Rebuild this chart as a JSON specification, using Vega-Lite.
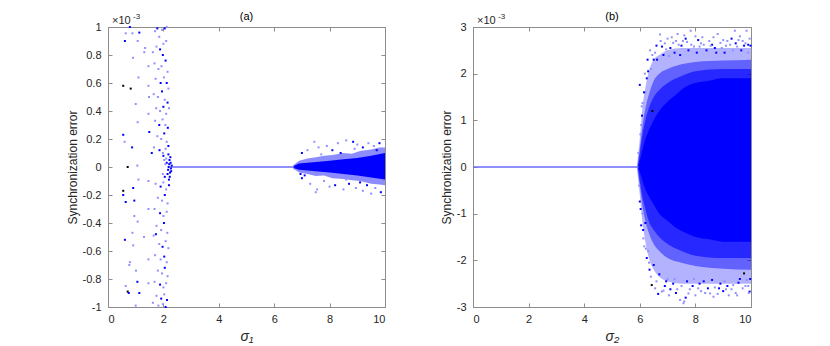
{
  "$schema": "https://vega.github.io/schema/vega-lite/v6.json",
  "padding": {"left": 65, "top": 10, "right": 5, "bottom": 5},
  "spacing": 53,
  "config": {
    "font": "Liberation Sans",
    "view": {"stroke": "#8c8c8c", "strokeWidth": 1},
    "axis": {
      "domainColor": "#8c8c8c", "tickColor": "#8c8c8c", "tickSize": -4,
      "labelFont": "Liberation Sans", "labelFontSize": 11, "labelColor": "#262626",
      "titleFont": "Liberation Sans", "titleFontSize": 12, "titleFontWeight": "normal", "titleColor": "#262626",
      "grid": false
    },
    "axisX": {"labelPadding": 10},
    "axisY": {"labelPadding": 11},
    "title": {"font": "Liberation Sans", "fontSize": 11, "fontWeight": "normal", "color": "#000000", "offset": -9}
  },
  "datasets": {
    "za": [{"s": 2.25, "e": 0}, {"s": 6.72, "e": 0}],
    "zb": [{"s": 0, "e": 0}, {"s": 5.95, "e": 0}],
    "aa": [
      {"k": "mid", "s": 6.68, "lo": -0.01, "hi": 0.01},
      {"k": "mid", "s": 6.9, "lo": -0.04, "hi": 0.045},
      {"k": "mid", "s": 7.2, "lo": -0.05, "hi": 0.06},
      {"k": "mid", "s": 7.5, "lo": -0.065, "hi": 0.07},
      {"k": "mid", "s": 7.8, "lo": -0.06, "hi": 0.08},
      {"k": "mid", "s": 8.1, "lo": -0.08, "hi": 0.085},
      {"k": "mid", "s": 8.5, "lo": -0.085, "hi": 0.1},
      {"k": "mid", "s": 8.8, "lo": -0.095, "hi": 0.095},
      {"k": "mid", "s": 9.1, "lo": -0.1, "hi": 0.115},
      {"k": "mid", "s": 9.5, "lo": -0.12, "hi": 0.125},
      {"k": "mid", "s": 9.8, "lo": -0.125, "hi": 0.14},
      {"k": "mid", "s": 10, "lo": -0.13, "hi": 0.14},
      {"k": "core", "s": 6.7, "lo": -0.008, "hi": 0.008},
      {"k": "core", "s": 6.9, "lo": -0.02, "hi": 0.025},
      {"k": "core", "s": 7.5, "lo": -0.03, "hi": 0.035},
      {"k": "core", "s": 8.0, "lo": -0.04, "hi": 0.045},
      {"k": "core", "s": 8.5, "lo": -0.05, "hi": 0.055},
      {"k": "core", "s": 9.0, "lo": -0.06, "hi": 0.065},
      {"k": "core", "s": 9.5, "lo": -0.075, "hi": 0.08},
      {"k": "core", "s": 10, "lo": -0.09, "hi": 0.1}
    ],
    "ab": [
      {"k": "outer", "s": 5.9, "lo": -0.05, "hi": 0.05},
      {"k": "outer", "s": 6.0, "lo": -0.6, "hi": 0.6},
      {"k": "outer", "s": 6.1, "lo": -1.2, "hi": 1.3},
      {"k": "outer", "s": 6.2, "lo": -1.6, "hi": 1.7},
      {"k": "outer", "s": 6.35, "lo": -2.0, "hi": 2.1},
      {"k": "outer", "s": 6.5, "lo": -2.2, "hi": 2.3},
      {"k": "outer", "s": 6.7, "lo": -2.35, "hi": 2.4},
      {"k": "outer", "s": 7.0, "lo": -2.45, "hi": 2.5},
      {"k": "outer", "s": 7.5, "lo": -2.5, "hi": 2.55},
      {"k": "outer", "s": 8.0, "lo": -2.5, "hi": 2.55},
      {"k": "outer", "s": 9.0, "lo": -2.5, "hi": 2.55},
      {"k": "outer", "s": 10, "lo": -2.5, "hi": 2.55},
      {"k": "mid", "s": 5.92, "lo": -0.05, "hi": 0.05},
      {"k": "mid", "s": 6.0, "lo": -0.4, "hi": 0.4},
      {"k": "mid", "s": 6.1, "lo": -0.85, "hi": 0.9},
      {"k": "mid", "s": 6.2, "lo": -1.15, "hi": 1.25},
      {"k": "mid", "s": 6.35, "lo": -1.45, "hi": 1.6},
      {"k": "mid", "s": 6.5, "lo": -1.65, "hi": 1.85},
      {"k": "mid", "s": 6.7, "lo": -1.8, "hi": 2.0},
      {"k": "mid", "s": 7.0, "lo": -1.95, "hi": 2.1},
      {"k": "mid", "s": 7.5, "lo": -2.05, "hi": 2.2},
      {"k": "mid", "s": 8.0, "lo": -2.12, "hi": 2.25},
      {"k": "mid", "s": 9.0, "lo": -2.18, "hi": 2.28},
      {"k": "mid", "s": 10, "lo": -2.2, "hi": 2.3},
      {"k": "mid2", "s": 5.94, "lo": -0.04, "hi": 0.04},
      {"k": "mid2", "s": 6.0, "lo": -0.3, "hi": 0.3},
      {"k": "mid2", "s": 6.1, "lo": -0.65, "hi": 0.7},
      {"k": "mid2", "s": 6.2, "lo": -0.9, "hi": 1.0},
      {"k": "mid2", "s": 6.35, "lo": -1.2, "hi": 1.3},
      {"k": "mid2", "s": 6.5, "lo": -1.35, "hi": 1.5},
      {"k": "mid2", "s": 6.7, "lo": -1.5, "hi": 1.65},
      {"k": "mid2", "s": 7.0, "lo": -1.65, "hi": 1.8},
      {"k": "mid2", "s": 7.5, "lo": -1.8, "hi": 1.95},
      {"k": "mid2", "s": 8.0, "lo": -1.9, "hi": 2.05},
      {"k": "mid2", "s": 9.0, "lo": -1.95, "hi": 2.1},
      {"k": "mid2", "s": 10, "lo": -1.95, "hi": 2.1},
      {"k": "core", "s": 5.95, "lo": -0.03, "hi": 0.03},
      {"k": "core", "s": 6.05, "lo": -0.2, "hi": 0.25},
      {"k": "core", "s": 6.15, "lo": -0.4, "hi": 0.5},
      {"k": "core", "s": 6.3, "lo": -0.6, "hi": 0.75},
      {"k": "core", "s": 6.5, "lo": -0.8, "hi": 1.0},
      {"k": "core", "s": 6.7, "lo": -1.0, "hi": 1.2},
      {"k": "core", "s": 7.0, "lo": -1.15, "hi": 1.4},
      {"k": "core", "s": 7.3, "lo": -1.3, "hi": 1.55},
      {"k": "core", "s": 7.6, "lo": -1.4, "hi": 1.7},
      {"k": "core", "s": 8.0, "lo": -1.5, "hi": 1.8},
      {"k": "core", "s": 8.5, "lo": -1.55, "hi": 1.85},
      {"k": "core", "s": 9.0, "lo": -1.6, "hi": 1.9},
      {"k": "core", "s": 9.5, "lo": -1.6, "hi": 1.9},
      {"k": "core", "s": 10, "lo": -1.6, "hi": 1.9}
    ],
    "pa": [
      {"s":0.79,"e":1.0,"t":"b"},{"s":0.64,"e":0.955,"t":"l"},{"s":0.88,"e":0.955,"t":"l"},{"s":1.13,"e":0.96,"t":"b"},{"s":0.61,"e":0.9,"t":"b"},{"s":1.07,"e":0.9,"t":"l"},{"s":0.9,"e":0.78,"t":"l"},{"s":0.55,"e":0.58,"t":"k"},{"s":0.82,"e":0.56,"t":"k"},{"s":0.55,"e":0.23,"t":"b"},{"s":0.6,"e":0.18,"t":"l"},{"s":0.87,"e":0.14,"t":"b"},{"s":0.71,"e":0.0,"t":"k"},{"s":1.06,"e":0.01,"t":"l"},{"s":1.07,"e":0.32,"t":"l"},{"s":1.31,"e":0.82,"t":"l"},{"s":1.34,"e":0.85,"t":"l"},{"s":1.46,"e":0.72,"t":"l"},{"s":1.46,"e":0.58,"t":"l"},{"s":1.48,"e":0.5,"t":"l"},{"s":1.46,"e":0.38,"t":"l"},{"s":1.49,"e":0.25,"t":"b"},{"s":1.58,"e":0.1,"t":"b"},{"s":1.1,"e":0.64,"t":"l"},{"s":1.0,"e":0.45,"t":"l"},{"s":0.55,"e":-0.17,"t":"k"},{"s":0.55,"e":-0.2,"t":"b"},{"s":0.64,"e":-0.25,"t":"b"},{"s":0.95,"e":-0.24,"t":"b"},{"s":0.91,"e":-0.15,"t":"b"},{"s":1.1,"e":-0.09,"t":"l"},{"s":0.95,"e":-0.35,"t":"l"},{"s":1.07,"e":-0.39,"t":"l"},{"s":0.61,"e":-0.52,"t":"b"},{"s":0.88,"e":-0.47,"t":"l"},{"s":0.91,"e":-0.56,"t":"l"},{"s":0.79,"e":-0.68,"t":"l"},{"s":0.77,"e":-0.7,"t":"l"},{"s":1.01,"e":-0.74,"t":"l"},{"s":1.06,"e":-0.82,"t":"b"},{"s":1.46,"e":-0.66,"t":"l"},{"s":1.46,"e":-0.83,"t":"l"},{"s":0.64,"e":-0.85,"t":"l"},{"s":0.71,"e":-0.89,"t":"k"},{"s":0.75,"e":-0.9,"t":"b"},{"s":1.13,"e":-0.9,"t":"b"},{"s":1.0,"e":-0.99,"t":"l"},{"s":1.46,"e":-0.3,"t":"l"},{"s":1.46,"e":-0.1,"t":"l"},{"s":1.3,"e":-0.5,"t":"l"},
      {"s":1.70,"e":0.97,"t":"l"},{"s":1.78,"e":0.99,"t":"b"},{"s":1.85,"e":0.93,"t":"l"},{"s":1.95,"e":0.98,"t":"l"},{"s":2.05,"e":0.99,"t":"b"},{"s":2.12,"e":1.0,"t":"l"},{"s":1.62,"e":0.82,"t":"l"},{"s":1.75,"e":0.86,"t":"l"},{"s":1.88,"e":0.84,"t":"b"},{"s":2.0,"e":0.88,"t":"l"},{"s":2.1,"e":0.9,"t":"l"},{"s":1.98,"e":0.80,"t":"b"},{"s":1.68,"e":0.74,"t":"l"},{"s":1.82,"e":0.70,"t":"l"},{"s":1.93,"e":0.72,"t":"l"},{"s":2.08,"e":0.76,"t":"b"},{"s":2.15,"e":0.68,"t":"l"},{"s":1.72,"e":0.63,"t":"l"},{"s":1.9,"e":0.6,"t":"b"},{"s":2.02,"e":0.64,"t":"l"},{"s":2.12,"e":0.6,"t":"b"},{"s":2.18,"e":0.56,"t":"l"},{"s":1.65,"e":0.52,"t":"l"},{"s":1.8,"e":0.5,"t":"l"},{"s":1.95,"e":0.54,"t":"b"},{"s":2.05,"e":0.48,"t":"l"},{"s":2.15,"e":0.46,"t":"b"},{"s":1.74,"e":0.42,"t":"l"},{"s":1.88,"e":0.40,"t":"l"},{"s":2.0,"e":0.43,"t":"b"},{"s":2.1,"e":0.38,"t":"l"},{"s":2.2,"e":0.42,"t":"l"},{"s":1.7,"e":0.33,"t":"l"},{"s":1.85,"e":0.3,"t":"b"},{"s":1.97,"e":0.34,"t":"l"},{"s":2.07,"e":0.3,"t":"l"},{"s":2.16,"e":0.28,"t":"b"},{"s":1.78,"e":0.22,"t":"l"},{"s":1.92,"e":0.2,"t":"l"},{"s":2.03,"e":0.24,"t":"b"},{"s":2.12,"e":0.18,"t":"l"},{"s":1.66,"e":0.14,"t":"l"},{"s":1.86,"e":0.12,"t":"b"},{"s":1.98,"e":0.1,"t":"l"},{"s":2.08,"e":0.13,"t":"l"},{"s":2.18,"e":0.15,"t":"b"},
      {"s":1.72,"e":-0.12,"t":"l"},{"s":1.9,"e":-0.14,"t":"b"},{"s":2.0,"e":-0.11,"t":"l"},{"s":2.1,"e":-0.16,"t":"l"},{"s":2.2,"e":-0.13,"t":"b"},{"s":1.8,"e":-0.22,"t":"l"},{"s":1.95,"e":-0.24,"t":"l"},{"s":2.05,"e":-0.2,"t":"b"},{"s":2.15,"e":-0.26,"t":"l"},{"s":1.68,"e":-0.3,"t":"l"},{"s":1.88,"e":-0.33,"t":"b"},{"s":2.0,"e":-0.35,"t":"l"},{"s":2.12,"e":-0.32,"t":"l"},{"s":1.75,"e":-0.42,"t":"l"},{"s":1.92,"e":-0.45,"t":"l"},{"s":2.02,"e":-0.4,"t":"b"},{"s":2.14,"e":-0.47,"t":"l"},{"s":1.65,"e":-0.49,"t":"l"},{"s":1.73,"e":-0.48,"t":"b"},{"s":1.85,"e":-0.55,"t":"l"},{"s":1.97,"e":-0.57,"t":"b"},{"s":2.08,"e":-0.53,"t":"l"},{"s":2.18,"e":-0.58,"t":"l"},{"s":1.7,"e":-0.63,"t":"l"},{"s":1.9,"e":-0.66,"t":"l"},{"s":2.03,"e":-0.64,"t":"b"},{"s":2.12,"e":-0.68,"t":"l"},{"s":1.8,"e":-0.74,"t":"l"},{"s":1.95,"e":-0.76,"t":"l"},{"s":2.05,"e":-0.72,"t":"b"},{"s":2.15,"e":-0.78,"t":"l"},{"s":1.68,"e":-0.82,"t":"l"},{"s":1.88,"e":-0.84,"t":"b"},{"s":2.0,"e":-0.86,"t":"l"},{"s":2.1,"e":-0.83,"t":"l"},{"s":1.75,"e":-0.92,"t":"l"},{"s":1.92,"e":-0.94,"t":"b"},{"s":2.03,"e":-0.91,"t":"l"},{"s":2.13,"e":-0.95,"t":"b"},{"s":1.82,"e":-0.99,"t":"l"},{"s":1.98,"e":-0.98,"t":"l"},{"s":2.08,"e":-1.0,"t":"b"},{"s":1.62,"e":-0.97,"t":"l"},
      {"s":2.0,"e":0.08,"t":"b"},{"s":2.05,"e":-0.07,"t":"b"},{"s":2.1,"e":0.06,"t":"l"},{"s":2.15,"e":-0.05,"t":"b"},{"s":2.18,"e":0.09,"t":"b"},{"s":2.2,"e":-0.09,"t":"b"},{"s":2.22,"e":0.05,"t":"b"},{"s":2.24,"e":-0.04,"t":"b"},{"s":2.26,"e":0.03,"t":"b"},{"s":2.28,"e":-0.03,"t":"b"},{"s":2.12,"e":0.03,"t":"b"},{"s":2.07,"e":0.02,"t":"l"},{"s":2.17,"e":-0.02,"t":"b"},{"s":2.21,"e":0.02,"t":"b"},{"s":1.98,"e":-0.05,"t":"l"},{"s":2.03,"e":0.05,"t":"l"},{"s":2.25,"e":0.07,"t":"b"},{"s":2.23,"e":-0.07,"t":"b"},{"s":2.19,"e":0.0,"t":"b"},{"s":2.3,"e":0.01,"t":"b"},{"s":2.27,"e":-0.01,"t":"b"},
      {"s":7.45,"e":0.18,"t":"l"},{"s":7.2,"e":0.12,"t":"l"},{"s":7.0,"e":0.1,"t":"b"},{"s":7.6,"e":0.14,"t":"l"},{"s":7.9,"e":0.15,"t":"l"},{"s":8.1,"e":0.12,"t":"b"},{"s":8.3,"e":0.17,"t":"l"},{"s":8.6,"e":0.19,"t":"l"},{"s":8.85,"e":0.18,"t":"b"},{"s":9.0,"e":0.16,"t":"l"},{"s":9.2,"e":0.14,"t":"b"},{"s":9.4,"e":0.17,"t":"l"},{"s":9.6,"e":0.15,"t":"l"},{"s":9.8,"e":0.17,"t":"b"},{"s":9.9,"e":0.13,"t":"l"},{"s":8.4,"e":0.1,"t":"b"},{"s":7.7,"e":0.09,"t":"l"},{"s":9.3,"e":0.11,"t":"l"},{"s":9.7,"e":0.12,"t":"b"},{"s":8.9,"e":0.13,"t":"l"},
      {"s":7.0,"e":-0.08,"t":"b"},{"s":7.3,"e":-0.12,"t":"l"},{"s":7.5,"e":-0.18,"t":"l"},{"s":7.55,"e":-0.16,"t":"l"},{"s":7.8,"e":-0.1,"t":"l"},{"s":8.0,"e":-0.14,"t":"l"},{"s":8.2,"e":-0.13,"t":"b"},{"s":8.5,"e":-0.16,"t":"l"},{"s":8.7,"e":-0.12,"t":"b"},{"s":8.95,"e":-0.15,"t":"l"},{"s":9.2,"e":-0.17,"t":"l"},{"s":9.35,"e":-0.13,"t":"b"},{"s":9.5,"e":-0.19,"t":"l"},{"s":9.65,"e":-0.15,"t":"l"},{"s":9.85,"e":-0.18,"t":"b"},{"s":9.95,"e":-0.12,"t":"l"},{"s":6.95,"e":-0.05,"t":"b"},{"s":7.1,"e":-0.06,"t":"b"},{"s":8.6,"e":-0.09,"t":"l"},{"s":9.1,"e":-0.11,"t":"b"}
    ],
    "pb": [
      {"s":6.0,"e":1.76,"t":"b"},{"s":6.1,"e":1.37,"t":"l"},{"s":6.37,"e":2.5,"t":"l"},{"s":6.73,"e":2.84,"t":"l"},{"s":7.36,"e":2.85,"t":"l"},{"s":7.83,"e":2.92,"t":"l"},{"s":7.6,"e":2.82,"t":"l"},{"s":9.42,"e":2.92,"t":"l"},{"s":9.84,"e":2.92,"t":"l"},{"s":6.5,"e":2.3,"t":"b"},{"s":6.6,"e":2.6,"t":"b"},{"s":6.9,"e":2.65,"t":"l"},{"s":7.1,"e":2.55,"t":"b"},{"s":7.3,"e":2.7,"t":"l"},{"s":7.5,"e":2.6,"t":"b"},{"s":7.7,"e":2.68,"t":"l"},{"s":7.95,"e":2.58,"t":"l"},{"s":8.1,"e":2.72,"t":"b"},{"s":8.3,"e":2.62,"t":"l"},{"s":8.5,"e":2.7,"t":"l"},{"s":8.7,"e":2.55,"t":"b"},{"s":8.9,"e":2.66,"t":"l"},{"s":9.1,"e":2.6,"t":"l"},{"s":9.3,"e":2.75,"t":"b"},{"s":9.5,"e":2.58,"t":"l"},{"s":9.7,"e":2.7,"t":"l"},{"s":9.9,"e":2.62,"t":"b"},{"s":6.25,"e":1.9,"t":"b"},{"s":6.2,"e":1.6,"t":"l"},{"s":6.4,"e":2.1,"t":"l"},{"s":8.0,"e":2.8,"t":"l"},{"s":8.8,"e":2.85,"t":"l"},{"s":9.6,"e":2.8,"t":"l"},{"s":6.45,"e":1.2,"t":"k"},{"s":6.05,"e":0.9,"t":"l"},
      {"s":6.28,"e":2.3,"t":"b"},{"s":6.55,"e":2.45,"t":"l"},{"s":6.8,"e":2.58,"t":"b"},{"s":7.0,"e":2.75,"t":"l"},{"s":7.2,"e":2.66,"t":"l"},{"s":7.65,"e":2.75,"t":"b"},{"s":8.2,"e":2.65,"t":"l"},{"s":8.6,"e":2.62,"t":"b"},{"s":9.0,"e":2.72,"t":"l"},{"s":9.25,"e":2.62,"t":"l"},{"s":9.75,"e":2.6,"t":"b"},{"s":9.95,"e":2.75,"t":"l"},{"s":6.15,"e":1.6,"t":"b"},{"s":6.08,"e":1.1,"t":"b"},{"s":6.02,"e":0.7,"t":"l"},
      {"s":6.45,"e":2.4,"t":"l"},{"s":6.62,"e":2.3,"t":"b"},{"s":6.75,"e":2.7,"t":"l"},{"s":6.85,"e":2.4,"t":"b"},{"s":6.95,"e":2.52,"t":"l"},{"s":7.05,"e":2.38,"t":"l"},{"s":7.15,"e":2.78,"t":"l"},{"s":7.25,"e":2.45,"t":"b"},{"s":7.4,"e":2.62,"t":"l"},{"s":7.45,"e":2.4,"t":"b"},{"s":7.55,"e":2.7,"t":"l"},{"s":7.75,"e":2.5,"t":"b"},{"s":7.85,"e":2.62,"t":"l"},{"s":8.05,"e":2.45,"t":"b"},{"s":8.15,"e":2.58,"t":"l"},{"s":8.25,"e":2.78,"t":"l"},{"s":8.4,"e":2.5,"t":"b"},{"s":8.55,"e":2.6,"t":"l"},{"s":8.65,"e":2.78,"t":"l"},{"s":8.75,"e":2.45,"t":"b"},{"s":8.95,"e":2.55,"t":"l"},{"s":9.05,"e":2.45,"t":"b"},{"s":9.15,"e":2.7,"t":"l"},{"s":9.35,"e":2.5,"t":"l"},{"s":9.45,"e":2.65,"t":"b"},{"s":9.55,"e":2.72,"t":"l"},{"s":9.65,"e":2.5,"t":"b"},{"s":9.8,"e":2.65,"t":"l"},{"s":9.9,"e":2.45,"t":"l"},{"s":9.98,"e":2.6,"t":"b"},
      {"s":6.0,"e":-0.74,"t":"b"},{"s":6.13,"e":-1.53,"t":"l"},{"s":6.2,"e":-1.2,"t":"b"},{"s":6.3,"e":-1.8,"t":"l"},{"s":6.43,"e":-2.53,"t":"k"},{"s":6.5,"e":-2.1,"t":"b"},{"s":6.66,"e":-2.72,"t":"b"},{"s":6.79,"e":-2.67,"t":"l"},{"s":7.0,"e":-2.4,"t":"l"},{"s":7.2,"e":-2.5,"t":"b"},{"s":7.45,"e":-2.85,"t":"l"},{"s":7.57,"e":-2.92,"t":"l"},{"s":7.75,"e":-2.71,"t":"l"},{"s":7.9,"e":-2.55,"t":"b"},{"s":8.1,"e":-2.6,"t":"l"},{"s":8.3,"e":-2.45,"t":"b"},{"s":8.53,"e":-2.71,"t":"l"},{"s":8.7,"e":-2.58,"t":"l"},{"s":8.9,"e":-2.5,"t":"b"},{"s":9.1,"e":-2.62,"t":"l"},{"s":9.36,"e":-2.53,"t":"l"},{"s":9.55,"e":-2.48,"t":"b"},{"s":9.7,"e":-2.6,"t":"l"},{"s":9.84,"e":-2.42,"t":"l"},{"s":9.95,"e":-2.67,"t":"b"},{"s":6.35,"e":-2.2,"t":"b"},{"s":6.6,"e":-2.45,"t":"l"},{"s":7.1,"e":-2.62,"t":"b"},{"s":8.0,"e":-2.75,"t":"l"},{"s":9.2,"e":-2.75,"t":"l"},{"s":9.75,"e":-2.28,"t":"k"},{"s":6.1,"e":-1.0,"t":"l"},
      {"s":6.25,"e":-1.95,"t":"b"},{"s":6.9,"e":-2.55,"t":"b"},{"s":7.35,"e":-2.62,"t":"l"},{"s":7.65,"e":-2.8,"t":"b"},{"s":8.2,"e":-2.66,"t":"l"},{"s":8.45,"e":-2.6,"t":"b"},{"s":8.8,"e":-2.72,"t":"l"},{"s":9.0,"e":-2.66,"t":"b"},{"s":9.45,"e":-2.7,"t":"l"},{"s":9.9,"e":-2.55,"t":"l"},{"s":6.05,"e":-1.25,"t":"b"},{"s":6.16,"e":-1.7,"t":"l"},{"s":7.6,"e":-2.88,"t":"l"},
      {"s":6.4,"e":-2.35,"t":"l"},{"s":6.55,"e":-2.6,"t":"l"},{"s":6.7,"e":-2.3,"t":"b"},{"s":6.85,"e":-2.65,"t":"l"},{"s":6.95,"e":-2.45,"t":"b"},{"s":7.05,"e":-2.75,"t":"l"},{"s":7.25,"e":-2.4,"t":"l"},{"s":7.3,"e":-2.7,"t":"b"},{"s":7.5,"e":-2.55,"t":"l"},{"s":7.7,"e":-2.45,"t":"b"},{"s":7.8,"e":-2.62,"t":"l"},{"s":7.95,"e":-2.4,"t":"l"},{"s":8.15,"e":-2.5,"t":"b"},{"s":8.35,"e":-2.7,"t":"l"},{"s":8.6,"e":-2.42,"t":"b"},{"s":8.65,"e":-2.78,"t":"l"},{"s":8.85,"e":-2.6,"t":"b"},{"s":9.05,"e":-2.45,"t":"l"},{"s":9.15,"e":-2.55,"t":"b"},{"s":9.3,"e":-2.62,"t":"l"},{"s":9.5,"e":-2.75,"t":"l"},{"s":9.6,"e":-2.4,"t":"b"},{"s":9.8,"e":-2.55,"t":"l"},{"s":9.92,"e":-2.7,"t":"l"},{"s":9.97,"e":-2.4,"t":"b"},
      {"s":5.95,"e":0.3,"t":"l"},{"s":5.98,"e":-0.4,"t":"l"},{"s":6.03,"e":-0.9,"t":"b"},{"s":6.07,"e":1.3,"t":"l"},{"s":6.12,"e":-1.35,"t":"b"},{"s":6.18,"e":2.0,"t":"l"},{"s":6.22,"e":-1.75,"t":"l"},{"s":6.3,"e":2.05,"t":"b"},{"s":6.33,"e":-2.05,"t":"l"}
    ]
  },
  "hconcat": [
    {
      "width": 277, "height": 280,
      "title": {"text": "(a)"},
      "resolve": {"axis": {"x": "independent", "y": "independent"}},
      "layer": [
        {
          "data": {"name": "aa"},
          "transform": [{"filter": "datum.k === 'mid'"}],
          "mark": {"type": "area", "color": "#0000ff", "opacity": 0.45},
          "encoding": {
            "x": {"field": "s", "type": "quantitative", "scale": {"domain": [0, 10], "nice": false},
                  "axis": {"orient": "bottom", "values": [0,2,4,6,8,10], "title": "σ₁", "titleFontSize": 14, "titlePadding": 5, "titleFontStyle": "italic"}},
            "y": {"field": "lo", "type": "quantitative", "scale": {"domain": [-1, 1], "nice": false},
                  "axis": {"orient": "left", "values": [-1,-0.8,-0.6,-0.4,-0.2,0,0.2,0.4,0.6,0.8,1], "title": "Synchronization error", "titlePadding": 3,
                           "labelExpr": "replace(format(datum.value, '~g'), '−', '-')"}},
            "y2": {"field": "hi"}
          }
        },
        {
          "data": {"name": "aa"},
          "transform": [{"filter": "datum.k === 'core'"}],
          "mark": {"type": "area", "color": "#0000ff", "opacity": 1},
          "encoding": {
            "x": {"field": "s", "type": "quantitative", "axis": null},
            "y": {"field": "lo", "type": "quantitative", "axis": null},
            "y2": {"field": "hi"}
          }
        },
        {
          "data": {"name": "za"},
          "mark": {"type": "line", "color": "#6a6aff", "strokeWidth": 1.6},
          "encoding": {
            "x": {"field": "s", "type": "quantitative", "axis": {"orient": "top", "values": [0,2,4,6,8,10], "labels": false, "title": null, "domain": false}},
            "y": {"field": "e", "type": "quantitative", "axis": {"orient": "right", "values": [-1,-0.8,-0.6,-0.4,-0.2,0,0.2,0.4,0.6,0.8,1], "labels": false, "title": null, "domain": false}}
          }
        },
        {
          "data": {"name": "pa"},
          "mark": {"type": "square", "size": 4, "opacity": 1},
          "encoding": {
            "x": {"field": "s", "type": "quantitative", "axis": null},
            "y": {"field": "e", "type": "quantitative", "axis": null},
            "color": {"field": "t", "type": "nominal", "scale": {"domain": ["b", "l", "k"], "range": ["#0000ff", "#9090ff", "#000000"]}, "legend": null}
          }
        },
        {
          "data": {"values": [{"s": 0, "e": 1, "txt": "×10"}]},
          "mark": {"type": "text", "align": "left", "baseline": "bottom", "dx": 4, "dy": -1, "fontSize": 11, "color": "#262626"},
          "encoding": {
            "x": {"field": "s", "type": "quantitative", "axis": null},
            "y": {"field": "e", "type": "quantitative", "axis": null},
            "text": {"field": "txt"}
          }
        },
        {
          "data": {"values": [{"s": 0, "e": 1, "txt": "-3"}]},
          "mark": {"type": "text", "align": "left", "baseline": "bottom", "dx": 25, "dy": -6, "fontSize": 8, "color": "#262626"},
          "encoding": {
            "x": {"field": "s", "type": "quantitative", "axis": null},
            "y": {"field": "e", "type": "quantitative", "axis": null},
            "text": {"field": "txt"}
          }
        }
      ]
    },
    {
      "width": 278, "height": 280,
      "title": {"text": "(b)"},
      "resolve": {"axis": {"x": "independent", "y": "independent"}},
      "layer": [
        {
          "data": {"name": "ab"},
          "transform": [{"filter": "datum.k === 'outer'"}],
          "mark": {"type": "area", "color": "#0000ff", "opacity": 0.3, "interpolate": "monotone"},
          "encoding": {
            "x": {"field": "s", "type": "quantitative", "scale": {"domain": [0, 10], "nice": false},
                  "axis": {"orient": "bottom", "values": [0,2,4,6,8,10], "title": "σ₂", "titleFontSize": 14, "titlePadding": 5, "titleFontStyle": "italic"}},
            "y": {"field": "lo", "type": "quantitative", "scale": {"domain": [-3, 3], "nice": false},
                  "axis": {"orient": "left", "values": [-3,-2,-1,0,1,2,3], "title": "Synchronization error", "titlePadding": 3,
                           "labelExpr": "replace(format(datum.value, '~g'), '−', '-')"}},
            "y2": {"field": "hi"}
          }
        },
        {
          "data": {"name": "ab"},
          "transform": [{"filter": "datum.k === 'mid'"}],
          "mark": {"type": "area", "color": "#0000ff", "opacity": 0.45, "interpolate": "monotone"},
          "encoding": {
            "x": {"field": "s", "type": "quantitative", "axis": null},
            "y": {"field": "lo", "type": "quantitative", "axis": null},
            "y2": {"field": "hi"}
          }
        },
        {
          "data": {"name": "ab"},
          "transform": [{"filter": "datum.k === 'mid2'"}],
          "mark": {"type": "area", "color": "#0000ff", "opacity": 0.6, "interpolate": "monotone"},
          "encoding": {
            "x": {"field": "s", "type": "quantitative", "axis": null},
            "y": {"field": "lo", "type": "quantitative", "axis": null},
            "y2": {"field": "hi"}
          }
        },
        {
          "data": {"name": "ab"},
          "transform": [{"filter": "datum.k === 'core'"}],
          "mark": {"type": "area", "color": "#0000ff", "opacity": 1, "interpolate": "monotone"},
          "encoding": {
            "x": {"field": "s", "type": "quantitative", "axis": null},
            "y": {"field": "lo", "type": "quantitative", "axis": null},
            "y2": {"field": "hi"}
          }
        },
        {
          "data": {"name": "zb"},
          "mark": {"type": "line", "color": "#6a6aff", "strokeWidth": 1.6},
          "encoding": {
            "x": {"field": "s", "type": "quantitative", "axis": {"orient": "top", "values": [0,2,4,6,8,10], "labels": false, "title": null, "domain": false}},
            "y": {"field": "e", "type": "quantitative", "axis": {"orient": "right", "values": [-3,-2,-1,0,1,2,3], "labels": false, "title": null, "domain": false}}
          }
        },
        {
          "data": {"name": "pb"},
          "mark": {"type": "square", "size": 4, "opacity": 1},
          "encoding": {
            "x": {"field": "s", "type": "quantitative", "axis": null},
            "y": {"field": "e", "type": "quantitative", "axis": null},
            "color": {"field": "t", "type": "nominal", "scale": {"domain": ["b", "l", "k"], "range": ["#0000ff", "#9090ff", "#000000"]}, "legend": null}
          }
        },
        {
          "data": {"values": [{"s": 0, "e": 3, "txt": "×10"}]},
          "mark": {"type": "text", "align": "left", "baseline": "bottom", "dx": 4, "dy": -1, "fontSize": 11, "color": "#262626"},
          "encoding": {
            "x": {"field": "s", "type": "quantitative", "axis": null},
            "y": {"field": "e", "type": "quantitative", "axis": null},
            "text": {"field": "txt"}
          }
        },
        {
          "data": {"values": [{"s": 0, "e": 3, "txt": "-3"}]},
          "mark": {"type": "text", "align": "left", "baseline": "bottom", "dx": 25, "dy": -6, "fontSize": 8, "color": "#262626"},
          "encoding": {
            "x": {"field": "s", "type": "quantitative", "axis": null},
            "y": {"field": "e", "type": "quantitative", "axis": null},
            "text": {"field": "txt"}
          }
        }
      ]
    }
  ]
}
